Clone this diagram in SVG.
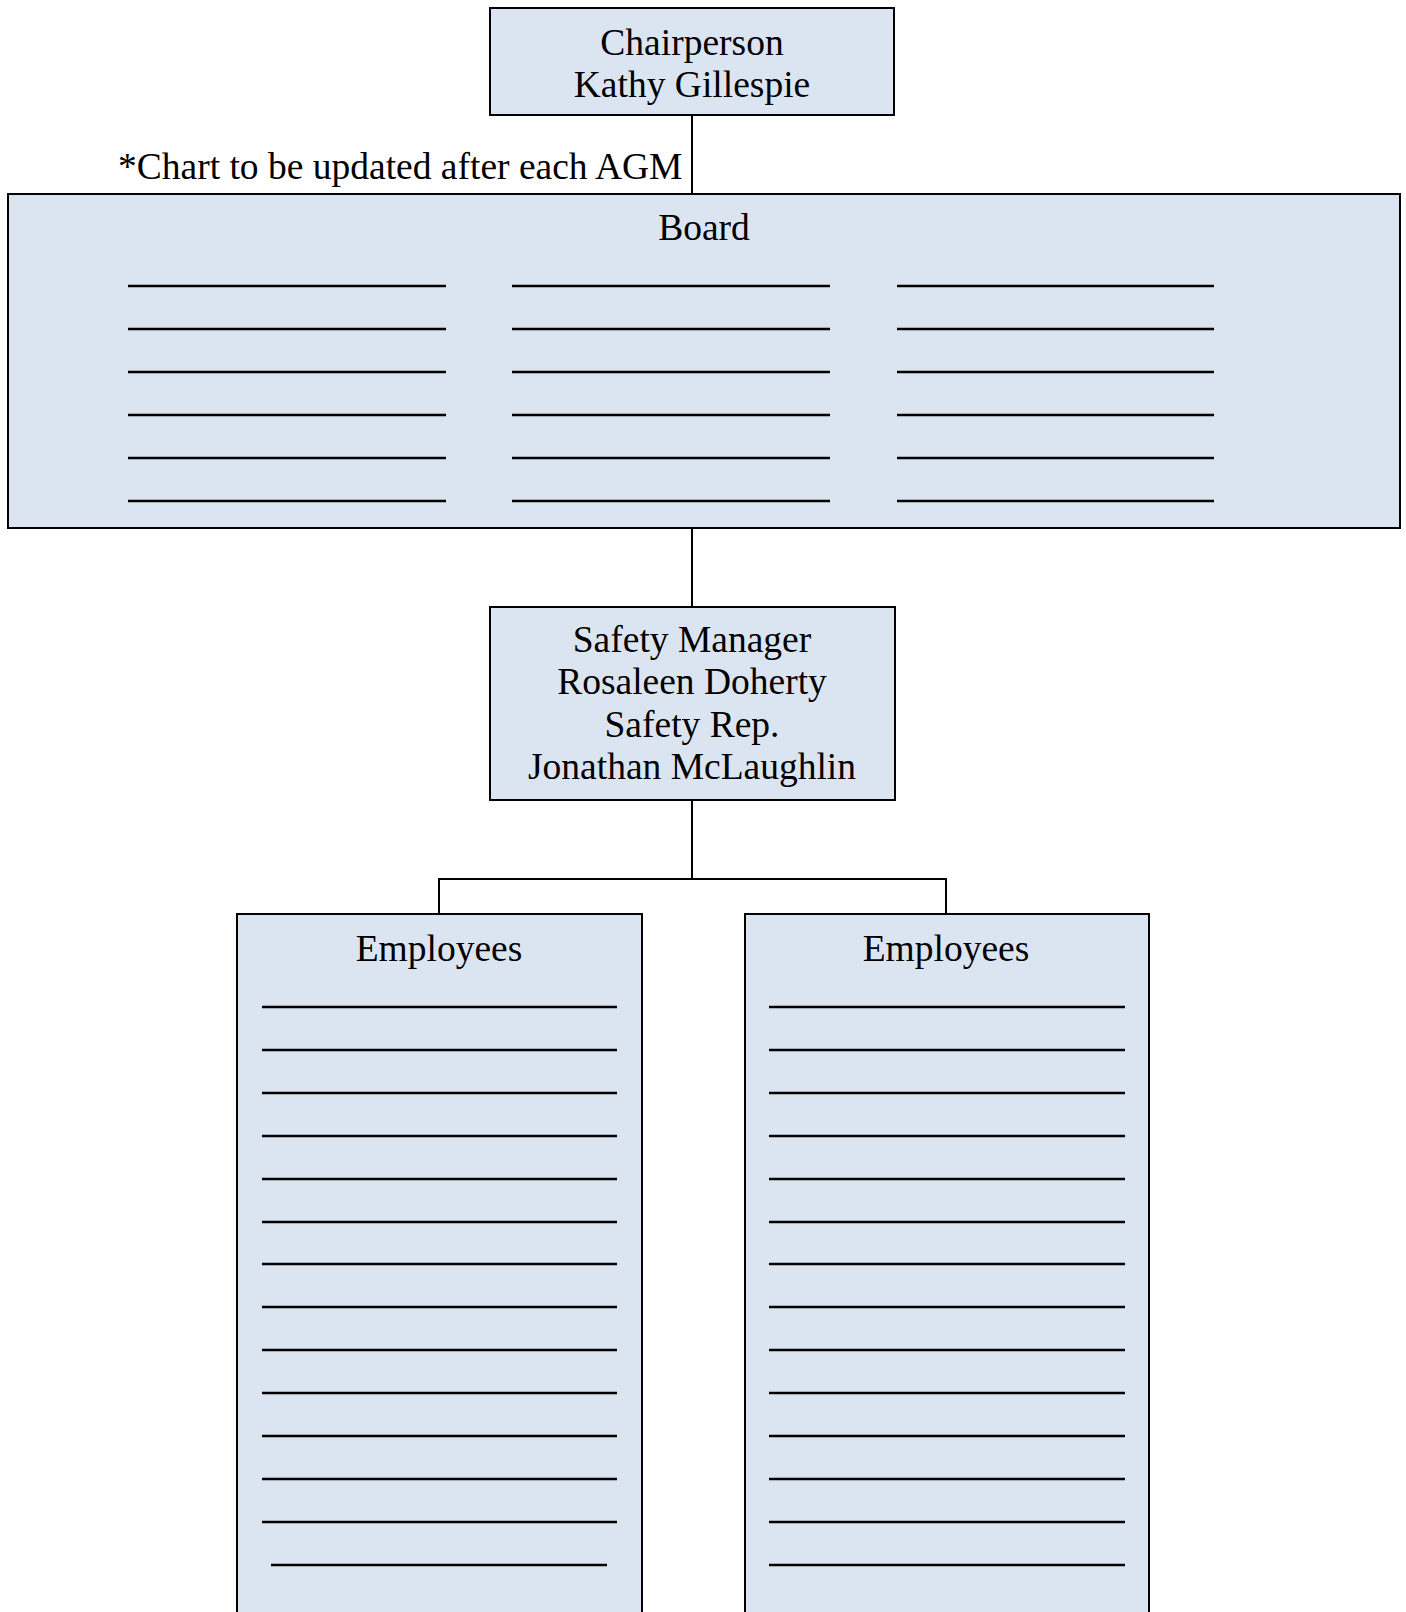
<svg xmlns="http://www.w3.org/2000/svg" width="1406" height="1612" viewBox="0 0 1406 1612">
<style>
.box{fill:#DBE5F1;stroke:#000;stroke-width:2}
.t{font-family:"Liberation Serif","Times New Roman",serif;font-size:37.5px;fill:#000}
.c{text-anchor:middle}
.conn{stroke:#000;stroke-width:2;fill:none}
.blank{stroke:#000;stroke-width:2.5}
</style>
<rect width="1406" height="1612" fill="#fff"/>
<g id="connectors">
<line class="conn" x1="692" y1="115" x2="692" y2="194"/>
<line class="conn" x1="692" y1="528" x2="692" y2="607"/>
<line class="conn" x1="692" y1="800" x2="692" y2="879"/>
<polyline class="conn" points="439,914 439,879 946,879 946,914"/>
</g>
<text class="t" x="118" y="179">*Chart to be updated after each AGM</text>
<g id="chairperson">
<rect class="box" x="490" y="8" width="404" height="107"/>
<text class="t c" x="692" y="55">Chairperson</text>
<text class="t c" x="692" y="97">Kathy Gillespie</text>
</g>
<g id="board">
<rect class="box" x="8" y="194" width="1392" height="334"/>
<text class="t c" x="704" y="240">Board</text>
<g class="blank">
<line x1="128" y1="286" x2="446" y2="286"/><line x1="512" y1="286" x2="830" y2="286"/><line x1="897" y1="286" x2="1214" y2="286"/>
<line x1="128" y1="329" x2="446" y2="329"/><line x1="512" y1="329" x2="830" y2="329"/><line x1="897" y1="329" x2="1214" y2="329"/>
<line x1="128" y1="372" x2="446" y2="372"/><line x1="512" y1="372" x2="830" y2="372"/><line x1="897" y1="372" x2="1214" y2="372"/>
<line x1="128" y1="415" x2="446" y2="415"/><line x1="512" y1="415" x2="830" y2="415"/><line x1="897" y1="415" x2="1214" y2="415"/>
<line x1="128" y1="458" x2="446" y2="458"/><line x1="512" y1="458" x2="830" y2="458"/><line x1="897" y1="458" x2="1214" y2="458"/>
<line x1="128" y1="501" x2="446" y2="501"/><line x1="512" y1="501" x2="830" y2="501"/><line x1="897" y1="501" x2="1214" y2="501"/>
</g>
</g>
<g id="safety">
<rect class="box" x="490" y="607" width="405" height="193"/>
<text class="t c" x="692" y="652">Safety Manager</text>
<text class="t c" x="692" y="694">Rosaleen Doherty</text>
<text class="t c" x="692" y="737">Safety Rep.</text>
<text class="t c" x="692" y="779">Jonathan McLaughlin</text>
</g>
<g id="employees-left">
<rect class="box" x="237" y="914" width="405" height="720"/>
<text class="t c" x="439" y="961">Employees</text>
<g class="blank">
<line x1="262" y1="1007" x2="617" y2="1007"/>
<line x1="262" y1="1050" x2="617" y2="1050"/>
<line x1="262" y1="1093" x2="617" y2="1093"/>
<line x1="262" y1="1136" x2="617" y2="1136"/>
<line x1="262" y1="1179" x2="617" y2="1179"/>
<line x1="262" y1="1222" x2="617" y2="1222"/>
<line x1="262" y1="1264" x2="617" y2="1264"/>
<line x1="262" y1="1307" x2="617" y2="1307"/>
<line x1="262" y1="1350" x2="617" y2="1350"/>
<line x1="262" y1="1393" x2="617" y2="1393"/>
<line x1="262" y1="1436" x2="617" y2="1436"/>
<line x1="262" y1="1479" x2="617" y2="1479"/>
<line x1="262" y1="1522" x2="617" y2="1522"/>
<line x1="271" y1="1565" x2="607" y2="1565"/>
</g>
</g>
<g id="employees-right">
<rect class="box" x="745" y="914" width="404" height="720"/>
<text class="t c" x="946" y="961">Employees</text>
<g class="blank">
<line x1="769" y1="1007" x2="1125" y2="1007"/>
<line x1="769" y1="1050" x2="1125" y2="1050"/>
<line x1="769" y1="1093" x2="1125" y2="1093"/>
<line x1="769" y1="1136" x2="1125" y2="1136"/>
<line x1="769" y1="1179" x2="1125" y2="1179"/>
<line x1="769" y1="1222" x2="1125" y2="1222"/>
<line x1="769" y1="1264" x2="1125" y2="1264"/>
<line x1="769" y1="1307" x2="1125" y2="1307"/>
<line x1="769" y1="1350" x2="1125" y2="1350"/>
<line x1="769" y1="1393" x2="1125" y2="1393"/>
<line x1="769" y1="1436" x2="1125" y2="1436"/>
<line x1="769" y1="1479" x2="1125" y2="1479"/>
<line x1="769" y1="1522" x2="1125" y2="1522"/>
<line x1="769" y1="1565" x2="1125" y2="1565"/>
</g>
</g>
</svg>
